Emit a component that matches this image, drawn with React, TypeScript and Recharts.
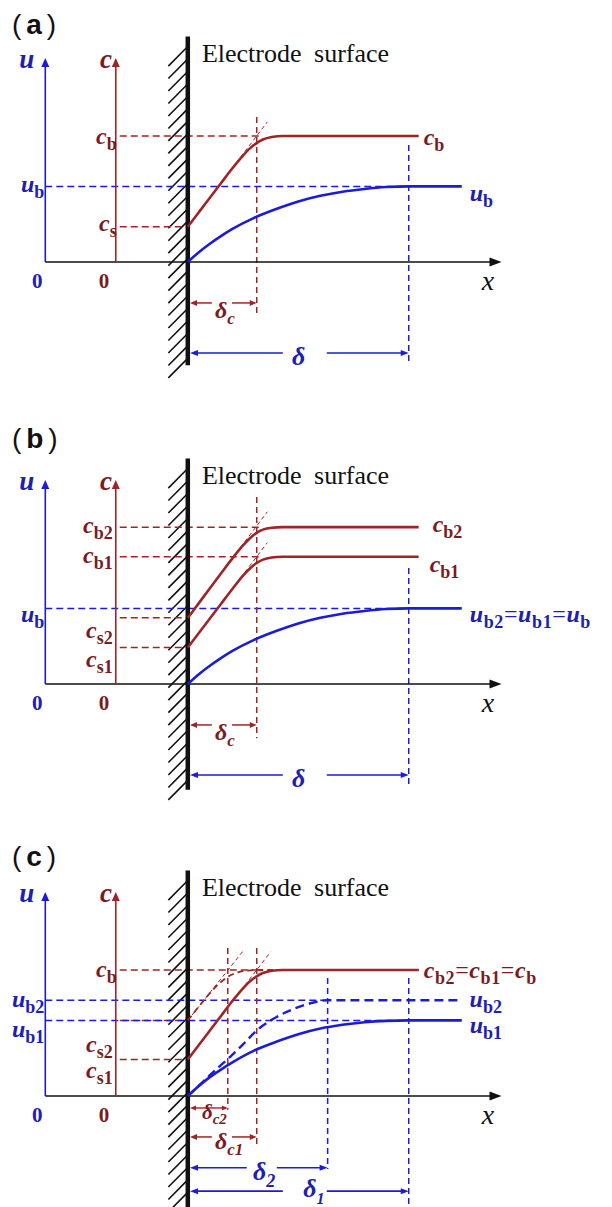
import React from 'react';
import { LineChart, Line, XAxis, YAxis, ReferenceLine, ReferenceDot } from 'recharts';

type Pt = [number, number];

// ---------------- data (x: distance from electrode surface, y: level) ----------------
// panel (a)
const aLevels = { cb: 10, ub: 6, cs: 2.8 };
const aDelta = { dc: 3.12, d: 10 };
const aConc: Pt[] = [[0, 2.8], [0.5, 3.95], [1, 5.1], [1.5, 6.25], [2, 7.4], [2.5, 8.45], [2.8, 9.0], [3.1, 9.42], [3.4, 9.72], [3.8, 9.92], [4.3, 10], [5, 10], [7, 10], [10.45, 10]];
const aVel: Pt[] = [[0, 0], [0.5, 0.78], [1, 1.45], [1.5, 2.05], [2, 2.6], [3, 3.5], [4, 4.2], [5, 4.8], [6, 5.25], [7, 5.58], [8, 5.8], [9, 5.95], [10, 6], [12.4, 6]];
const aTangent: Pt[] = [[2.2, 7.88], [3.6, 11.12]];

// panel (b)
const bLevels = { cb2: 12.45, cb1: 10.1, ub: 6, cs2: 5.25, cs1: 2.9 };
const bDelta = { dc: 3.12, d: 10 };
const bConc2: Pt[] = [[0, 5.25], [0.5, 6.42], [1, 7.6], [1.5, 8.77], [2, 9.93], [2.5, 11.0], [2.8, 11.55], [3.1, 11.98], [3.4, 12.25], [3.8, 12.4], [4.3, 12.45], [6, 12.45], [10.45, 12.45]];
const bConc1: Pt[] = [[0, 2.9], [0.5, 4.05], [1, 5.2], [1.5, 6.35], [2, 7.5], [2.5, 8.6], [2.8, 9.15], [3.1, 9.58], [3.4, 9.87], [3.8, 10.04], [4.3, 10.1], [6, 10.1], [10.45, 10.1]];
const bVel: Pt[] = [[0, 0], [0.5, 0.78], [1, 1.45], [1.5, 2.05], [2, 2.6], [3, 3.5], [4, 4.2], [5, 4.8], [6, 5.25], [7, 5.58], [8, 5.8], [9, 5.95], [10, 6], [12.4, 6]];
const bTangent2: Pt[] = [[2.2, 10.4], [3.6, 13.67]];
const bTangent1: Pt[] = [[2.2, 7.98], [3.6, 11.22]];

// panel (c)
const cLevels = { cb: 10, ub2: 7.6, ub1: 6, cs2: 6, cs1: 2.9 };
const cDelta = { dc2: 1.81, dc1: 3.12, d2: 6.33, d1: 10 };
const cConc1: Pt[] = [[0, 2.9], [0.5, 4.05], [1, 5.2], [1.5, 6.35], [2, 7.5], [2.5, 8.55], [2.8, 9.08], [3.1, 9.48], [3.4, 9.76], [3.8, 9.94], [4.3, 10], [6, 10], [10.45, 10]];
const cConc2: Pt[] = [[0, 6], [0.4, 6.88], [0.8, 7.75], [1.2, 8.55], [1.5, 9.05], [1.8, 9.45], [2.2, 9.78], [2.7, 9.95], [3.3, 10], [6, 10], [10.45, 10]];
const cVel1: Pt[] = [[0, 0], [0.5, 0.8], [1, 1.5], [1.5, 2.1], [2, 2.65], [3, 3.6], [4, 4.3], [5, 4.9], [6, 5.35], [7, 5.65], [8, 5.85], [9, 5.96], [10, 6], [12.4, 6]];
const cVel2: Pt[] = [[0, 0], [0.5, 0.82], [1, 1.65], [1.5, 2.45], [2, 3.25], [2.5, 4.1], [3.12, 5.2], [4, 6.25], [5, 7.05], [5.7, 7.42], [6.33, 7.6], [12.3, 7.6]];
const cTangent1: Pt[] = [[2.2, 7.9], [3.75, 11.45]];
const cTangent2: Pt[] = [[0, 6], [2.5, 11.5]];

// ---------------- layout / style ----------------
const W = 612;
const H = 412;
const X_DOMAIN: [number, number] = [-8.5, 19.2];
const Y_PX = 12.6;
const AXIS_PX = 262;
const Y_DOMAIN: [number, number] = [-(H - AXIS_PX) / Y_PX, AXIS_PX / Y_PX];
const U_AX = -6.45;
const C_AX = -3.26;
const AX_TOP = 16.2;
const X_END = 14.2;
const LVL_START = -3.08;
const WALL_TOP = 17.9;

const SERIF = "'Liberation Serif', 'Times New Roman', serif";
const SANS = "'Liberation Sans', Arial, sans-serif";
const BLUE = '#1b1bd8';
const RED = '#a02426';
const BLUE_T = '#2020b0';
const RED_T = '#7a1c1e';
const BLACK = '#111111';
const DASH = '7 4';
const VDASH = '6 4';
const TDASH = '4 3';
const DW = 1.5;

type Kind = 'm' | 's' | 'si' | 'n' | 'b';
type Part = [string, Kind];
interface TO {
  color: string;
  anchor?: 'start' | 'middle' | 'end';
  dx?: number;
  dy?: number;
  size?: number;
  sub?: number;
  bold?: boolean;
  family?: string;
  ws?: number;
  ls?: number;
}

function Rich({ cx, cy, parts, o }: { cx: number; cy: number; parts: Part[]; o: TO }) {
  const size = o.size ?? 22;
  const sub = o.sub ?? 17;
  const shift = Math.round(size * 0.25);
  let cur = 0;
  const spans = parts.map(([t, k], i) => {
    const isSub = k === 's' || k === 'si';
    const target = isSub ? shift : 0;
    const d = target - cur;
    cur = target;
    return (
      <tspan
        key={i}
        dy={d}
        fontSize={isSub ? sub : size}
        fontStyle={k === 'm' || k === 'si' ? 'italic' : 'normal'}
        fontWeight={k === 's' || k === 'b' || (o.bold && k !== 'n') ? 'bold' : 'normal'}
      >
        {t}
      </tspan>
    );
  });
  return (
    <text
      x={cx + (o.dx ?? 0)}
      y={cy + (o.dy ?? 0)}
      textAnchor={o.anchor ?? 'start'}
      fill={o.color}
      fontFamily={o.family ?? SERIF}
      wordSpacing={o.ws}
      letterSpacing={o.ls}
    >
      {spans}
    </text>
  );
}

const txt = (key: string, p: Pt, parts: Part[], o: TO) => (
  <ReferenceDot
    key={key}
    x={p[0]}
    y={p[1]}
    r={0}
    ifOverflow="visible"
    shape={(sp: any) => <Rich cx={sp.cx} cy={sp.cy} parts={parts} o={o} />}
  />
);

const seg = (key: string, p1: Pt, p2: Pt, stroke: string, width: number, dash?: string) => (
  <ReferenceLine
    key={key}
    segment={[{ x: p1[0], y: p1[1] }, { x: p2[0], y: p2[1] }]}
    stroke={stroke}
    strokeWidth={width}
    strokeDasharray={dash}
    ifOverflow="visible"
  />
);

const arrowShape = (color: string, width: number, head: [number, number], both: boolean) => (p: any) => {
  const { x1, y1, x2, y2 } = p;
  const a = Math.atan2(y2 - y1, x2 - x1);
  const tri = (x: number, y: number, ang: number) => {
    const L = head[0];
    const hw = head[1] / 2;
    const bx = x - L * Math.cos(ang);
    const by = y - L * Math.sin(ang);
    return `${x},${y} ${bx - hw * Math.sin(ang)},${by + hw * Math.cos(ang)} ${bx + hw * Math.sin(ang)},${by - hw * Math.cos(ang)}`;
  };
  const ex = x2 - head[0] * 0.8 * Math.cos(a);
  const ey = y2 - head[0] * 0.8 * Math.sin(a);
  const sx = both ? x1 + head[0] * 0.8 * Math.cos(a) : x1;
  const sy = both ? y1 + head[0] * 0.8 * Math.sin(a) : y1;
  return (
    <g>
      <line x1={sx} y1={sy} x2={ex} y2={ey} stroke={color} strokeWidth={width} />
      <polygon points={tri(x2, y2, a)} fill={color} />
      {both ? <polygon points={tri(x1, y1, a + Math.PI)} fill={color} /> : null}
    </g>
  );
};

const arrow = (key: string, p1: Pt, p2: Pt, color: string, width: number, head: [number, number], both = false) => (
  <ReferenceLine
    key={key}
    segment={[{ x: p1[0], y: p1[1] }, { x: p2[0], y: p2[1] }]}
    ifOverflow="visible"
    shape={arrowShape(color, width, head, both)}
  />
);

const toObj = (pts: Pt[]) => pts.map(([x, y]) => ({ x, y }));

const curve = (key: string, pts: Pt[], color: string, width: number, dash?: string) => (
  <Line
    key={key}
    data={toObj(pts)}
    dataKey="y"
    type="monotone"
    stroke={color}
    strokeWidth={width}
    strokeDasharray={dash}
    dot={false}
    activeDot={false}
    isAnimationActive={false}
  />
);

function frameBack(wallBottom: number) {
  const els: React.ReactNode[] = [];
  let i = 0;
  for (let y = WALL_TOP - 0.9; y > wallBottom + 0.4; y -= 0.99) {
    els.push(seg(`h${i++}`, [-0.06, y], [-0.88, y - 1.45], BLACK, 1.6));
  }
  return els;
}

function frameAxes(wallBottom: number) {
  return [
    arrow('xax', [U_AX, 0], [X_END, 0], BLACK, 1.6, [12, 9]),
    arrow('uax', [U_AX, 0], [U_AX, AX_TOP], BLUE, 1.6, [9, 8]),
    arrow('cax', [C_AX, 0], [C_AX, AX_TOP], RED, 1.6, [9, 8]),
    seg('wall', [0, wallBottom], [0, WALL_TOP], BLACK, 4.5),
  ];
}

function frameText(tag: string, tagY: number) {
  return [
    txt('tag', [-7.96, tagY], [['(', 'n'], [tag, 'b'], [')', 'n']], { color: BLACK, family: SANS, size: 28, dy: 9, ls: 5 }),
    txt('es', [0.64, 15.87], [['Electrode surface', 'n']], { color: BLACK, size: 26, ws: 6 }),
    txt('ul', [-7.29, AX_TOP], [['u', 'm']], { color: BLUE_T, anchor: 'middle', dy: 10, size: 27, bold: true }),
    txt('cl', [-3.7, AX_TOP], [['c', 'm']], { color: RED_T, anchor: 'middle', dy: 10, size: 27, bold: true }),
    txt('z1', [-6.81, 0], [['0', 'b']], { color: BLUE_T, anchor: 'middle', dy: 26, size: 21 }),
    txt('z2', [-3.79, 0], [['0', 'b']], { color: RED_T, anchor: 'middle', dy: 26, size: 21 }),
    txt('xl', [13.59, 0], [['x', 'm']], { color: BLACK, anchor: 'middle', dy: 28, size: 28 }),
  ];
}

const chartProps = {
  width: W,
  height: H,
  margin: { top: 0, right: 0, bottom: 0, left: 0 },
};

const axes = [
  <XAxis key="xa" type="number" dataKey="x" domain={X_DOMAIN} allowDataOverflow hide />,
  <YAxis key="ya" type="number" domain={Y_DOMAIN} allowDataOverflow hide />,
];

const LBL = { size: 24, sub: 18, bold: true };
const DL = { size: 25, sub: 18, bold: true };

function PanelA() {
  const L = aLevels;
  const D = aDelta;
  return (
    <LineChart {...chartProps}>
      {axes}
      {frameBack(-8.2)}
      {seg('cb', [LVL_START, L.cb], [D.dc + 0.15, L.cb], RED, DW, DASH)}
      {seg('ub', [U_AX, L.ub], [D.d, L.ub], BLUE, DW, DASH)}
      {seg('cs', [LVL_START, L.cs], [0, L.cs], RED, DW, DASH)}
      {seg('vdc', [D.dc, 11.5], [D.dc, -4.05], RED, DW, VDASH)}
      {seg('vd', [D.d, 9.29], [D.d, -8.0], BLUE, DW, VDASH)}
      {seg('tan', aTangent[0], aTangent[1], RED, 1, TDASH)}
      {frameAxes(-8.2)}
      {curve('u', aVel, BLUE, 2.6)}
      {curve('c', aConc, RED, 2.6)}
      {arrow('dcl', [1.09, -3.25], [0.1, -3.25], RED, 1.5, [7, 6])}
      {arrow('dcr', [2.0, -3.25], [D.dc, -3.25], RED, 1.5, [7, 6])}
      {arrow('dl', [4.3, -7.22], [0.1, -7.22], BLUE, 1.6, [8, 6])}
      {arrow('dr', [6.29, -7.22], [D.d, -7.22], BLUE, 1.6, [8, 6])}
      {frameText('a', 18.81)}
      {txt('ldc', [1.23, -3.25], [['δ', 'm'], ['c', 'si']], { ...DL, color: RED_T, dy: 15, size: 24, sub: 17 })}
      {txt('ld', [4.72, -7.22], [['δ', 'm']], { ...DL, color: BLUE_T, dy: 12, size: 26 })}
      {txt('lcb', [LVL_START, L.cb], [['c', 'm'], ['b', 's']], { ...LBL, color: RED_T, anchor: 'end', dx: -3, dy: 8 })}
      {txt('lub', [U_AX, L.ub], [['u', 'm'], ['b', 's']], { ...LBL, color: BLUE_T, anchor: 'end', dx: -1, dy: 6 })}
      {txt('lcs', [LVL_START, L.cs], [['c', 'm'], ['s', 's']], { ...LBL, color: RED_T, anchor: 'end', dx: -3, dy: 4 })}
      {txt('rcb', [10.45, L.cb], [['c', 'm'], ['b', 's']], { ...LBL, color: RED_T, dx: 5, dy: 9 })}
      {txt('rub', [12.4, L.ub], [['u', 'm'], ['b', 's']], { ...LBL, color: BLUE_T, dx: 8, dy: 15 })}
    </LineChart>
  );
}

function PanelB() {
  const L = bLevels;
  const D = bDelta;
  return (
    <LineChart {...chartProps}>
      {axes}
      {frameBack(-8.4)}
      {seg('cb2', [LVL_START, L.cb2], [D.dc + 0.15, L.cb2], RED, DW, DASH)}
      {seg('cb1', [LVL_START, L.cb1], [D.dc + 0.15, L.cb1], RED, DW, DASH)}
      {seg('ub', [U_AX, L.ub], [D.d, L.ub], BLUE, DW, DASH)}
      {seg('cs2', [LVL_START, L.cs2], [0, L.cs2], RED, DW, DASH)}
      {seg('cs1', [LVL_START, L.cs1], [0, L.cs1], RED, DW, DASH)}
      {seg('vdc', [D.dc, 14.84], [D.dc, -4.3], RED, DW, VDASH)}
      {seg('vd', [D.d, 9.2], [D.d, -8.0], BLUE, DW, VDASH)}
      {seg('tan2', bTangent2[0], bTangent2[1], RED, 1, TDASH)}
      {seg('tan1', bTangent1[0], bTangent1[1], RED, 1, TDASH)}
      {frameAxes(-8.4)}
      {curve('u', bVel, BLUE, 2.6)}
      {curve('c2', bConc2, RED, 2.6)}
      {curve('c1', bConc1, RED, 2.6)}
      {arrow('dcl', [1.09, -3.25], [0.1, -3.25], RED, 1.5, [7, 6])}
      {arrow('dcr', [2.0, -3.25], [D.dc, -3.25], RED, 1.5, [7, 6])}
      {arrow('dl', [4.3, -7.22], [0.1, -7.22], BLUE, 1.6, [8, 6])}
      {arrow('dr', [6.29, -7.22], [D.d, -7.22], BLUE, 1.6, [8, 6])}
      {frameText('b', 19.48)}
      {txt('ldc', [1.23, -3.25], [['δ', 'm'], ['c', 'si']], { ...DL, color: RED_T, dy: 15, size: 24, sub: 17 })}
      {txt('ld', [4.72, -7.22], [['δ', 'm']], { ...DL, color: BLUE_T, dy: 12, size: 26 })}
      {txt('lcb2', [LVL_START, L.cb2], [['c', 'm'], ['b2', 's']], { ...LBL, color: RED_T, anchor: 'end', dx: -7, dy: 6 })}
      {txt('lcb1', [LVL_START, L.cb1], [['c', 'm'], ['b1', 's']], { ...LBL, color: RED_T, anchor: 'end', dx: -7, dy: 6 })}
      {txt('lub', [U_AX, L.ub], [['u', 'm'], ['b', 's']], { ...LBL, color: BLUE_T, anchor: 'end', dx: -1, dy: 14 })}
      {txt('lcs2', [LVL_START, L.cs2], [['c', 'm'], ['s2', 's']], { ...LBL, color: RED_T, anchor: 'end', dx: -7, dy: 20 })}
      {txt('lcs1', [LVL_START, L.cs1], [['c', 'm'], ['s1', 's']], { ...LBL, color: RED_T, anchor: 'end', dx: -7, dy: 20 })}
      {txt('rcb2', [10.45, L.cb2], [['c', 'm'], ['b2', 's']], { ...LBL, color: RED_T, dx: 14, dy: 5 })}
      {txt('rcb1', [10.45, L.cb1], [['c', 'm'], ['b1', 's']], { ...LBL, color: RED_T, dx: 11, dy: 15 })}
      {txt('rub', [12.4, L.ub], [['u', 'm'], ['b2', 's'], ['=', 'n'], ['u', 'm'], ['b1', 's'], ['=', 'n'], ['u', 'm'], ['b', 's']], { ...LBL, color: BLUE_T, dx: 8, dy: 14, ls: 0.6 })}
    </LineChart>
  );
}

function PanelC() {
  const L = cLevels;
  const D = cDelta;
  return (
    <LineChart {...chartProps}>
      {axes}
      {frameBack(-8.9)}
      {seg('cb', [LVL_START, L.cb], [D.dc1 + 0.2, L.cb], RED, DW, DASH)}
      {seg('cs2', [LVL_START, L.cs2], [0, L.cs2], RED, DW, DASH)}
      {seg('cs1', [LVL_START, L.cs1], [0, L.cs1], RED, DW, DASH)}
      {seg('ub2', [U_AX, L.ub2], [D.d2, L.ub2], BLUE, DW, DASH)}
      {seg('ub1', [U_AX, L.ub1], [D.d1, L.ub1], BLUE, DW, DASH)}
      {seg('vdc2', [D.dc2, 11.75], [D.dc2, -1.1], RED, DW, VDASH)}
      {seg('vdc1', [D.dc1, 11.75], [D.dc1, -4.05], RED, DW, VDASH)}
      {seg('vd2', [D.d2, 9.37], [D.d2, -5.8], BLUE, DW, VDASH)}
      {seg('vd1', [D.d1, 9.37], [D.d1, -8.9], BLUE, DW, VDASH)}
      {seg('tan2', cTangent2[0], cTangent2[1], RED, 1, TDASH)}
      {seg('tan1', cTangent1[0], cTangent1[1], RED, 1, TDASH)}
      {frameAxes(-8.9)}
      {curve('u1', cVel1, BLUE, 2.6)}
      {curve('u2', cVel2, BLUE, 2.4, '9 5')}
      {curve('c2', cConc2, RED, 1.8, '6 4')}
      {curve('c1', cConc1, RED, 2.6)}
      {arrow('dc2', [0.1, -0.95], [D.dc2, -0.95], RED, 1.4, [6, 5], true)}
      {arrow('dc1l', [1.09, -3.25], [0.1, -3.25], RED, 1.5, [7, 6])}
      {arrow('dc1r', [2.0, -3.25], [D.dc1, -3.25], RED, 1.5, [7, 6])}
      {arrow('d2l', [2.67, -5.7], [0.1, -5.7], BLUE, 1.6, [8, 6])}
      {arrow('d2r', [4.03, -5.7], [D.d2, -5.7], BLUE, 1.6, [8, 6])}
      {arrow('d1l', [4.3, -7.55], [0.1, -7.55], BLUE, 1.6, [8, 6])}
      {arrow('d1r', [6.29, -7.55], [D.d1, -7.55], BLUE, 1.6, [8, 6])}
      {frameText('c', 18.97)}
      {txt('ldc2', [0.64, -0.95], [['δ', 'm'], ['c2', 'si']], { ...DL, color: RED_T, dy: 11, size: 21, sub: 15 })}
      {txt('ldc1', [1.23, -3.25], [['δ', 'm'], ['c1', 'si']], { ...DL, color: RED_T, dy: 12, size: 24, sub: 17 })}
      {txt('ld2', [2.95, -5.7], [['δ', 'm'], ['2', 'si']], { ...DL, color: BLUE_T, dy: 12, size: 26, sub: 18 })}
      {txt('ld1', [5.22, -7.55], [['δ', 'm'], ['1', 'si']], { ...DL, color: BLUE_T, dy: 6, size: 26, sub: 16 })}
      {txt('lcb', [LVL_START, L.cb], [['c', 'm'], ['b', 's']], { ...LBL, color: RED_T, anchor: 'end', dx: -3, dy: 7 })}
      {txt('lub2', [U_AX, L.ub2], [['u', 'm'], ['b2', 's']], { ...LBL, color: BLUE_T, anchor: 'end', dx: -1, dy: 7 })}
      {txt('lub1', [U_AX, L.ub1], [['u', 'm'], ['b1', 's']], { ...LBL, color: BLUE_T, anchor: 'end', dx: -1, dy: 17 })}
      {txt('lcs2', [LVL_START, L.cs1], [['c', 'm'], ['s2', 's']], { ...LBL, color: RED_T, anchor: 'end', dx: -7, dy: -7 })}
      {txt('lcs1', [LVL_START, L.cs1], [['c', 'm'], ['s1', 's']], { ...LBL, color: RED_T, anchor: 'end', dx: -7, dy: 19 })}
      {txt('rcb', [10.45, L.cb], [['c', 'm'], ['b2', 's'], ['=', 'n'], ['c', 'm'], ['b1', 's'], ['=', 'n'], ['c', 'm'], ['b', 's']], { ...LBL, color: RED_T, dx: 5, dy: 8, ls: 0.6 })}
      {txt('rub2', [12.3, L.ub2], [['u', 'm'], ['b2', 's']], { ...LBL, color: BLUE_T, dx: 10, dy: 7 })}
      {txt('rub1', [12.4, L.ub1], [['u', 'm'], ['b1', 's']], { ...LBL, color: BLUE_T, dx: 8, dy: 13 })}
    </LineChart>
  );
}

export default function App() {
  return (
    <div style={{ position: 'absolute', left: 0, top: 0, width: 612, height: 1207, overflow: 'hidden', background: '#ffffff' }}>
      <div style={{ position: 'absolute', left: 0, top: 0 }}>
        <PanelA />
      </div>
      <div style={{ position: 'absolute', left: 0, top: 422 }}>
        <PanelB />
      </div>
      <div style={{ position: 'absolute', left: 0, top: 834 }}>
        <PanelC />
      </div>
    </div>
  );
}
